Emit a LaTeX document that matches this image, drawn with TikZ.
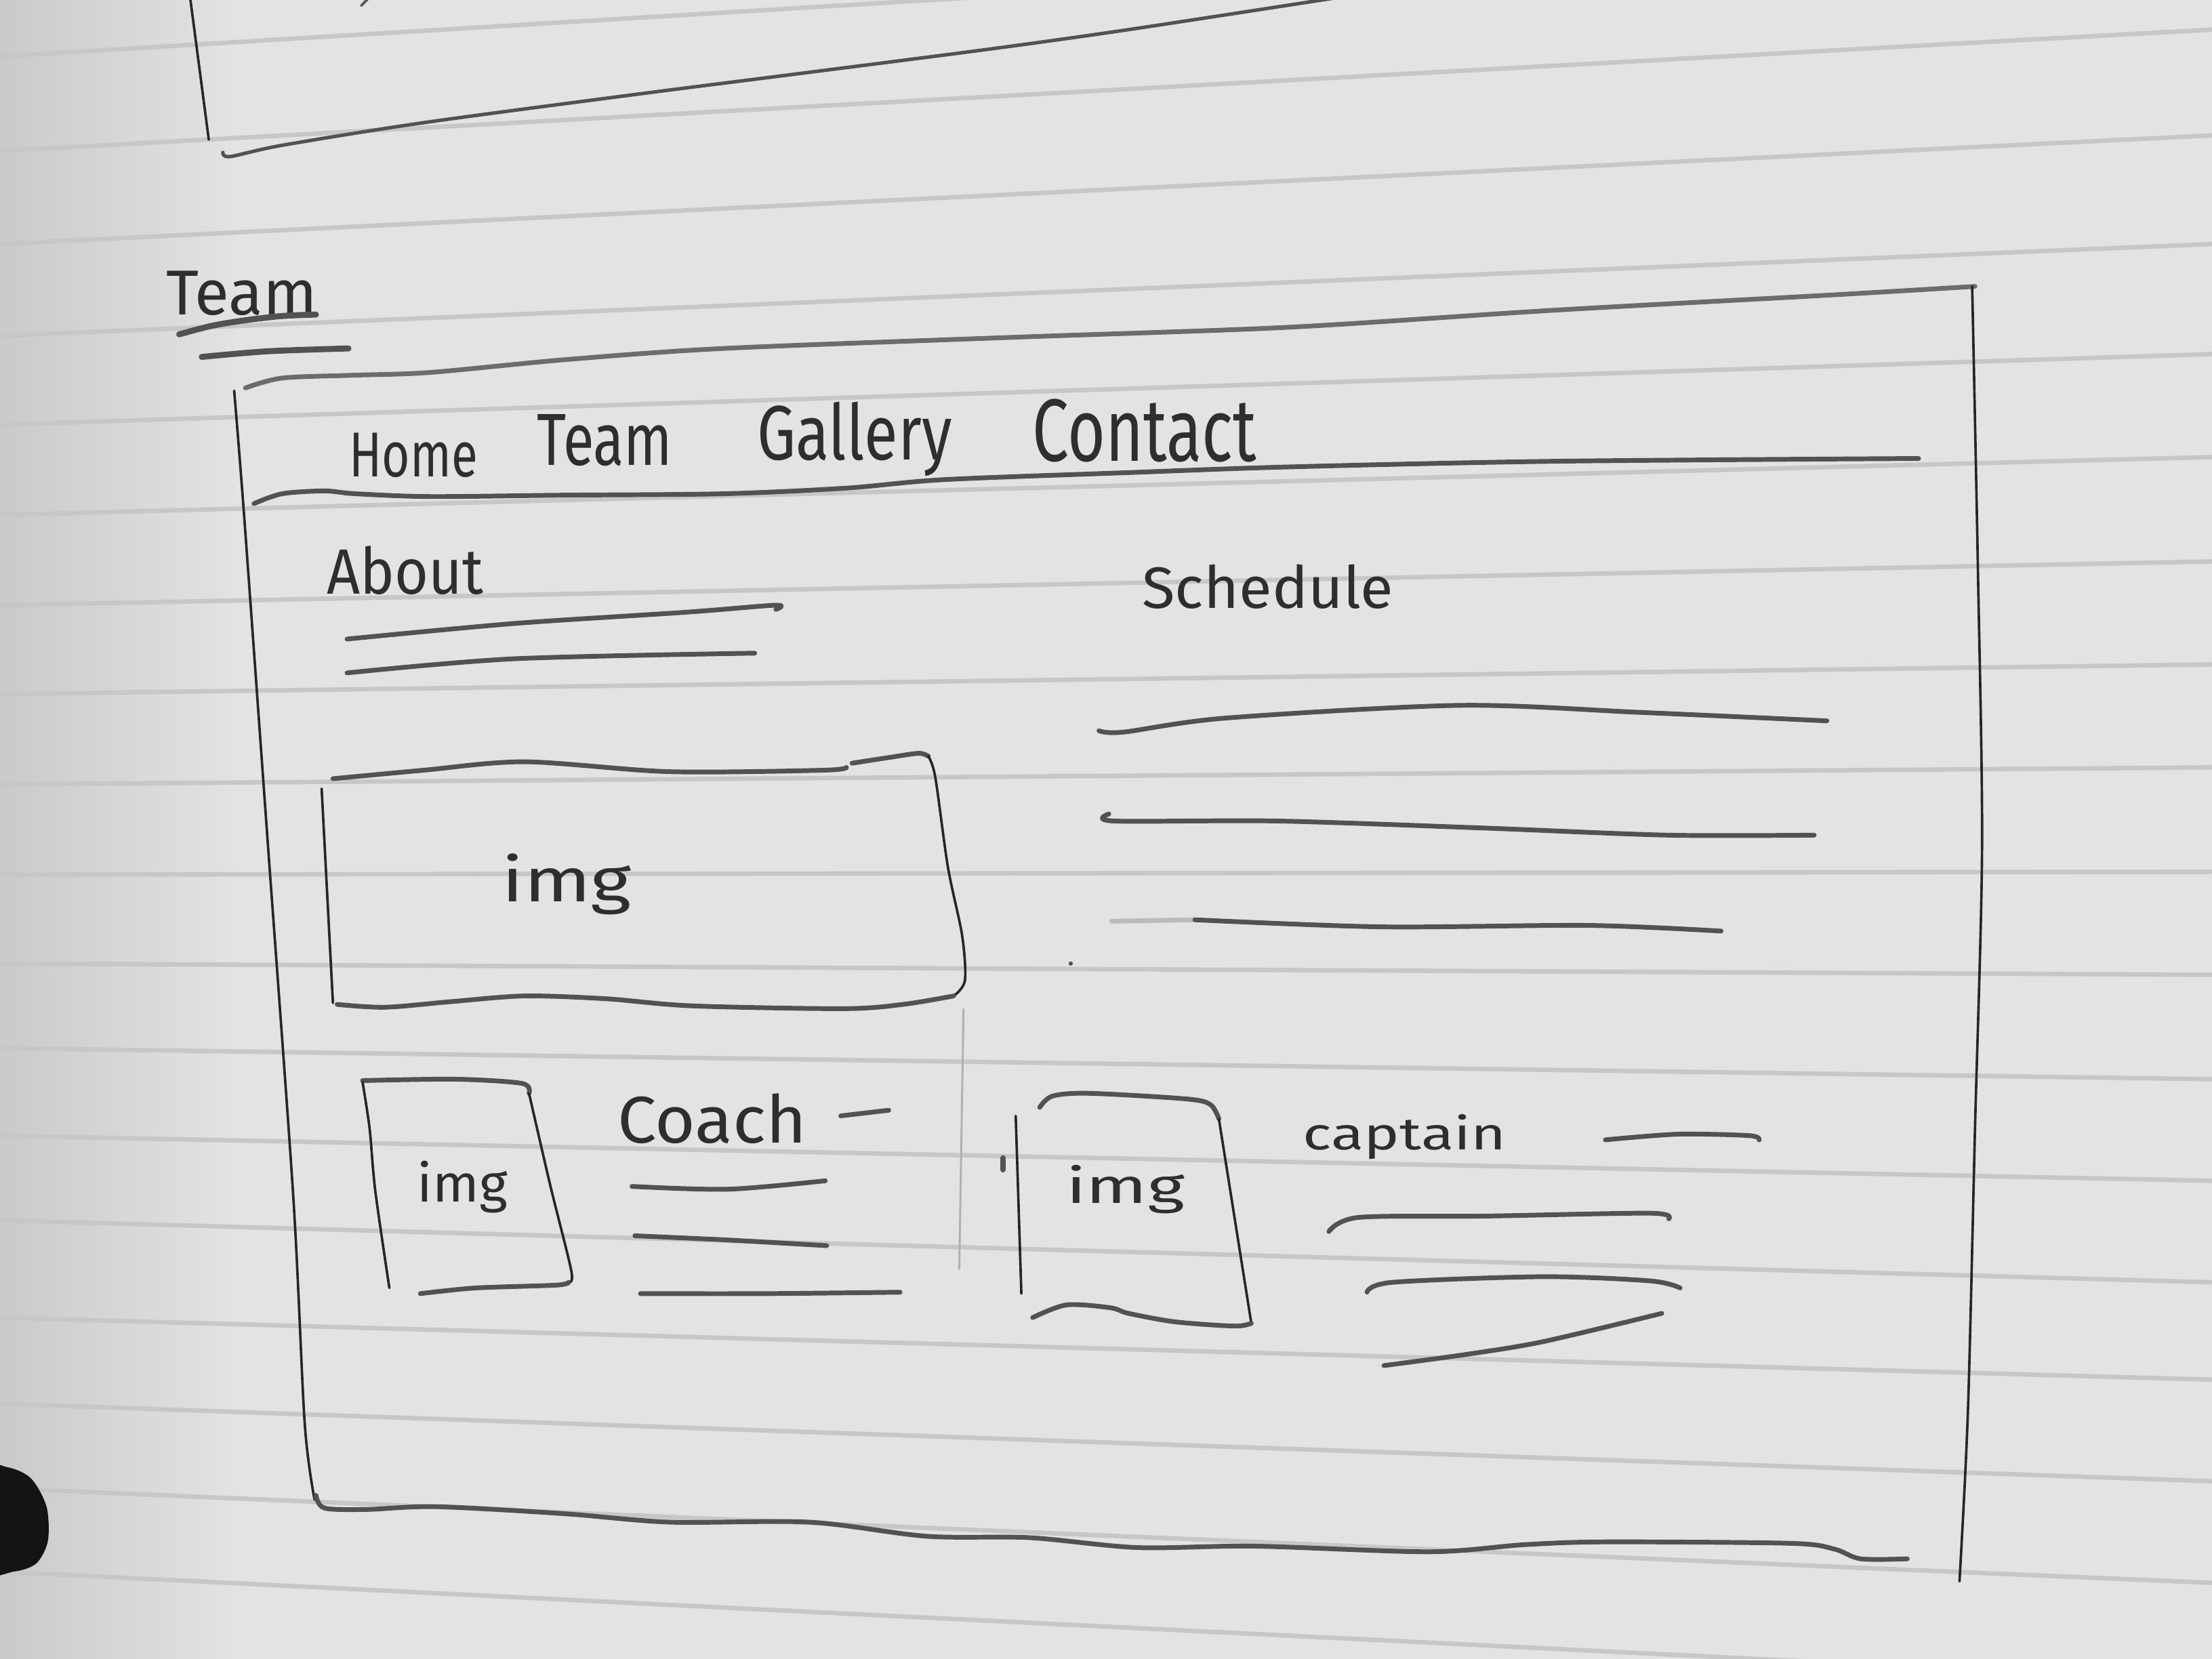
\documentclass[tikz,border=0pt]{standalone}
\usepackage{fontspec}
\usepackage{graphicx}
\newfontfamily\handfont{Fira Sans}
\definecolor{paper}{HTML}{E3E3E3}
\definecolor{paperdark}{HTML}{CACACA}
\definecolor{ruleline}{HTML}{C7C7C7}
\definecolor{lead}{HTML}{525252}
\definecolor{leaddark}{HTML}{262626}
\definecolor{ink}{HTML}{2E2E2E}
% a handwritten word scaled to a given width and height
\newcommand{\hw}[3]{\resizebox{#1}{#2}{\handfont #3}}

\begin{document}
\begin{tikzpicture}[x=0.01cm,y=-0.01cm,
  rule/.style={draw=ruleline, line width=0.9pt},
  pencil/.style={draw=lead, line width=0.95pt, line cap=round, line join=round},
  edge/.style={draw=leaddark, line width=0.5pt, line cap=round, line join=round},
  word/.style={inner sep=0pt, anchor=base west, text=ink}]

\useasboundingbox (0,0) rectangle (1568,1176);
\clip (0,0) rectangle (1568,1176);

% paper
\fill[paper] (0,0) rectangle (1568,1176);
\shade[left color=paperdark, right color=paper] (0,0) rectangle (170,1176);

% ruled lines of the notebook
\foreach \l/\r in {40/-55, 107/21, 173/96, 238/173, 301/251, 365/324,
    429/398, 492/471, 556/544, 620/618, 683/691, 743/765, 805/837,
    865/909, 934/978, 995/1050, 1055/1122, 1114/1192}
  \draw[rule] (0,\l) -- (1568,\r);

% binder hole shadow
\fill[black!92] plot[smooth cycle] coordinates {(-20,1040) (5,1040) (22,1048) (33,1068) (34,1092) (26,1108) (10,1114) (-20,1114)};

% previous sketch, cut off at the top
\draw[edge] (135,0) -- (148,99);
\draw[pencil, line width=0.7pt] plot[smooth] coordinates {(158,108) (163,111) (200,103) (300,87) (450,67) (560,53) (700,35) (800,21) (950,-2)};
\draw[pencil, line width=0.5pt] (256,4) -- (262,-2);

% page title
\node[word] (title) at (117,223) {\hw{1.07cm}{0.31cm}{Team}};
\draw[pencil, line width=1.2pt] plot[smooth] coordinates {(127,237) (150,231) (174,227) (200,224) (224,223)};
\draw[pencil, line width=1.2pt] plot[smooth] coordinates {(143,253) (190,249) (247,247)};

% browser frame
\draw[pencil, draw=lead!85] plot[smooth] coordinates {(174,275) (200,268) (250,266) (305,264) (400,255) (513,247) (721,239) (913,232) (1100,220) (1300,209) (1400,203)};
\draw[edge] plot[smooth] coordinates {(1398,203) (1402,400) (1405,600) (1400,800) (1395,1000) (1389,1121)};
\draw[edge] plot[smooth] coordinates {(166,277) (173,365) (190,600) (208,850) (216,1009) (223,1063)};
\draw[pencil] plot[smooth] coordinates {(224,1060) (230,1069) (260,1070) (309,1068) (400,1073) (475,1079) (574,1079) (657,1089) (730,1090) (806,1097) (889,1096) (1013,1100) (1080,1095) (1137,1093) (1269,1094) (1300,1098) (1319,1105) (1352,1105)};

% navigation bar
\node[word] (nhome) at (247,338) {\hw{0.91cm}{0.31cm}{Home}};
\node[word] (nteam) at (380,330) {\hw{0.96cm}{0.36cm}{Team}};
\node[word] (ngal) at (536,326) {\hw{1.38cm}{0.41cm}{Gallery}};
\node[word] (ncon) at (731,327) {\hw{1.59cm}{0.44cm}{Contact}};
\draw[pencil] plot[smooth] coordinates {(180,357) (200,350) (230,348) (252,350) (305,352) (400,351) (513,350) (600,346) (669,340) (800,335) (913,331) (1100,327) (1360,325)};

% about section
\node[word] (about) at (231,421) {\hw{1.11cm}{0.34cm}{About}};
\draw[pencil] plot[smooth] coordinates {(246,453) (364,442) (486,434) (550,429) (550,432)};
\draw[pencil] plot[smooth] coordinates {(246,477) (364,467) (535,463)};

% schedule section
\node[word] (sched) at (809,431) {\hw{1.78cm}{0.31cm}{Schedule}};
\draw[pencil] plot[smooth] coordinates {(779,518) (796,519) (869,509) (1035,500) (1163,505) (1295,511)};
\draw[pencil] plot[smooth] coordinates {(786,577) (790,582) (906,582) (1053,587) (1182,592) (1286,592)};
\draw[pencil, draw=lead!40] (788,653) -- (847,652);
\draw[pencil] plot[smooth] coordinates {(847,652) (979,657) (1126,656) (1220,660)};

% large picture placeholder
\draw[pencil] plot[smooth] coordinates {(236,552) (300,546) (372,540) (474,547) (583,546) (600,544)};
\draw[pencil] plot[smooth] coordinates {(604,541) (630,537) (651,534) (658,536)};
\draw[edge] plot[smooth] coordinates {(658,536) (663,551) (672,615) (682,663) (684,695) (676,706)};
\draw[pencil] plot[smooth] coordinates {(676,706) (640,712) (598,715) (490,713) (430,708) (372,706) (320,710) (273,714) (239,712)};
\draw[edge] (228,559) -- (236,711);
\node[word] (img1) at (355,639) {\hw{0.92cm}{0.34cm}{img}};

% faint column divider and stray marks
\draw[draw=ruleline!80!lead, line width=0.4pt] (683,715) -- (680,900);
\draw[pencil, line width=1.2pt] (711,821) -- (711,829);
\fill[lead] (759,683) circle (1.5);

% coach card
\draw[pencil] plot[smooth] coordinates {(257,766) (323,765) (370,768) (375,775)};
\draw[edge] plot[smooth] coordinates {(375,775) (390,840) (405,901) (403,909)};
\draw[pencil] plot[smooth] coordinates {(403,909) (394,911) (337,913) (298,917)};
\draw[edge] plot[smooth] coordinates {(257,767) (262,800) (266,844) (276,913)};
\node[word] (img2) at (295,852) {\hw{0.64cm}{0.29cm}{img}};
\node[word] (coach) at (437,810) {\hw{1.34cm}{0.35cm}{Coach}};
\draw[pencil] (596,791) -- (630,787);
\draw[pencil] plot[smooth] coordinates {(448,841) (516,843) (585,837)};
\draw[pencil] plot[smooth] coordinates {(450,876) (516,879) (586,883)};
\draw[pencil] plot[smooth] coordinates {(454,917) (543,917) (638,916)};

% captain card
\draw[pencil] plot[smooth] coordinates {(737,785) (746,777) (772,775) (841,779) (858,783) (864,793)};
\draw[edge] (864,793) -- (887,938);
\draw[pencil] plot[smooth] coordinates {(887,938) (875,940) (833,937) (800,931) (787,927) (756,925) (732,934)};
\draw[edge] (720,791) -- (724,917);
\node[word] (img3) at (755,853) {\hw{0.84cm}{0.27cm}{img}};
\node[word] (capt) at (923,815) {\hw{1.44cm}{0.25cm}{captain}};
\draw[pencil] plot[smooth] coordinates {(1138,808) (1189,804) (1240,805) (1247,808)};
\draw[pencil] plot[smooth] coordinates {(942,873) (963,863) (1055,862) (1170,860) (1183,864)};
\draw[pencil] plot[smooth] coordinates {(969,916) (987,909) (1094,905) (1170,908) (1191,913)};
\draw[pencil] plot[smooth] coordinates {(981,968) (1040,960) (1094,951) (1178,931)};

\end{tikzpicture}
\end{document}
